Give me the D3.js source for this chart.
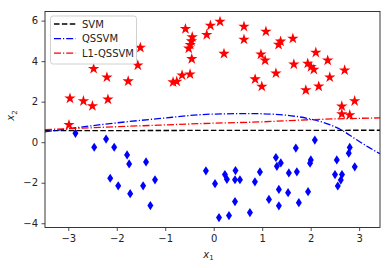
<!DOCTYPE html>
<meta charset="utf-8">
<title>SVM vs QSSVM</title>
<script src="https://d3js.org/d3.v7.min.js"></script>
<style>
  body { margin: 0; background: #fff; }
  svg text { font-family: "DejaVu Sans", sans-serif; }
</style>
<div id="my_dataviz"></div>
<script>

// red stars (class +1)
var starX = [-2.985, -2.965, -2.687, -2.502, -2.477, -2.203, -2.182, -1.764, -1.565, -1.513,
  -0.838, -0.762, -0.653, -0.488, -0.583, -0.443, -0.459, -0.484, -0.515, -0.453,
  -0.144, -0.068, 0.130, 0.212, 0.624, 0.624, 1.077, 0.974, 1.060, 0.854,
  0.992, 1.283, 1.338, 1.379, 1.633, 1.653, 1.900, 1.939, 2.007, 2.065,
  2.106, 2.166, 2.351, 2.394, 2.701, 2.907, 2.642, 2.642, 2.806];
var starY = [0.853, 2.162, 2.029, 1.784, 3.623, 3.206, 2.113, 3.010, 3.794, 4.667,
  2.961, 2.995, 3.304, 3.353, 5.593, 5.191, 4.985, 4.809, 4.627, 4.113,
  5.299, 5.755, 5.951, 4.368, 5.706, 5.069, 5.461, 4.333, 4.039, 3.108,
  2.750, 3.402, 4.814, 4.971, 5.118, 3.843, 2.569, 3.882, 3.721, 3.583,
  4.422, 2.755, 4.039, 3.206, 3.549, 2.029, 1.775, 1.392, 1.343];

// blue diamonds (class -1)
var diamX = [-2.852, -2.465, -2.220, -2.053, -1.787, -1.744, -1.396, -2.135, -1.970, -1.723,
  -1.456, -1.211, -1.307, -0.161, 0.027, 0.109, 0.231, 0.272, 0.315, 0.449,
  0.439, 0.541, 0.439, 0.747, 0.850, 0.953, 1.139, 1.283, 1.303, 1.384,
  1.344, 1.344, 1.534, 1.550, 1.715, 1.694, 1.756, 1.946, 1.987, 2.003,
  2.086, 2.539, 2.502, 2.646, 2.621, 2.559, 2.806, 2.786, 2.909];
var diamY = [0.436, -0.250, 0.152, -0.250, -0.627, -1.074, -0.975, -1.779, -2.152, -2.539,
  -2.152, -1.858, -3.127, -1.412, -2.049, -3.721, -1.598, -1.833, -3.623, -1.402,
  -1.853, -1.853, -2.931, -3.475, -1.956, -1.466, -2.824, -0.755, -1.191, -1.025,
  -2.333, -3.142, -2.490, -1.515, -1.461, -0.289, -2.985, -2.441, -1.034, -0.877,
  0.103, -0.877, -1.598, -1.598, -1.868, -2.162, -0.260, -0.544, -1.216];

// decision boundaries
var svmX = [-3.48, 3.43];
var svmY = [0.57, 0.59];
var qsX = [-3.48, -2.31, -1.15, 0.02, 0.81, 1.50, 1.98, 2.39, 2.66, 2.94, 3.21, 3.43];
var qsY = [0.51, 0.87, 1.16, 1.39, 1.41, 1.33, 1.15, 0.87, 0.57, 0.13, -0.27, -0.57];
var l1X = [-3.48, -1.15, 0.02, 0.95, 1.98, 3.43];
var l1Y = [0.62, 0.84, 0.94, 1.00, 1.11, 1.20];

var xTicks = [-3, -2, -1, 0, 1, 2, 3];
var yTicks = [-4, -2, 0, 2, 4, 6];

var margin = {top: 11.5, right: 10, bottom: 40.5, left: 45},
    width = 390 - margin.left - margin.right,
    height = 268 - margin.top - margin.bottom;

var svg = d3.select("#my_dataviz")
  .append("svg")
    .attr("width", 390)
    .attr("height", 268)
  .append("g")
    .attr("transform", "translate(" + margin.left + "," + margin.top + ")");

var x = d3.scaleLinear().domain([-3.48, 3.43]).range([0, width]);
var y = d3.scaleLinear().domain([-4.21, 6.45]).range([height, 0]);

var minus = function(d) { return String(d).replace("-", "\u2212"); };

// axes
var xAxis = svg.append("g")
  .attr("transform", "translate(0," + height + ")")
  .call(d3.axisBottom(x).tickValues(xTicks).tickSize(3.5).tickPadding(3.5).tickFormat(minus));
var yAxis = svg.append("g")
  .call(d3.axisLeft(y).tickValues(yTicks).tickSize(3.5).tickPadding(3.5).tickFormat(minus));
[xAxis, yAxis].forEach(function(a) {
  a.select(".domain").remove();
  a.selectAll("text").attr("font-size", "10px").attr("fill", "#222");
  a.selectAll("line").attr("stroke", "#222").attr("stroke-width", 0.8);
});

// lines
var line = d3.line()
  .x(function(d) { return x(d[0]); })
  .y(function(d) { return y(d[1]); });

svg.append("defs").append("clipPath").attr("id", "clip")
  .append("rect").attr("width", width).attr("height", height);

var plot = svg.append("g").attr("clip-path", "url(#clip)");

// markers
var starPath = d3.symbol().type(d3.symbolStar).size(40)();
var diamPath = "M0,-4.6L3,0L0,4.6L-3,0Z";

plot.selectAll(".star")
  .data(d3.zip(starX, starY))
  .enter().append("path")
    .attr("d", starPath)
    .attr("transform", function(d) { return "translate(" + x(d[0]) + "," + y(d[1]) + ")"; })
    .attr("fill", "#ff0000");

plot.selectAll(".diam")
  .data(d3.zip(diamX, diamY))
  .enter().append("path")
    .attr("d", diamPath)
    .attr("transform", function(d) { return "translate(" + x(d[0]) + "," + y(d[1]) + ")"; })
    .attr("fill", "#0000ff");

var curves = [
  {name: "SVM", xs: svmX, ys: svmY, color: "#000", dash: "5.5,2.4"},
  {name: "QSSVM", xs: qsX, ys: qsY, color: "#0000ff", dash: "7,2,1.2,2"},
  {name: "L1-QSSVM", xs: l1X, ys: l1Y, color: "#ff0000", dash: "7,2,1.2,2"}
];

curves.forEach(function(c) {
  plot.append("path")
    .datum(d3.zip(c.xs, c.ys))
    .attr("d", line.curve(d3.curveMonotoneX))
    .attr("fill", "none")
    .attr("stroke", c.color)
    .attr("stroke-width", 1.3)
    .attr("stroke-dasharray", c.dash);
});

// frame
svg.append("rect")
  .attr("width", width).attr("height", height)
  .attr("fill", "none").attr("stroke", "#222").attr("stroke-width", 0.9);

// legend
var legend = svg.append("g").attr("transform", "translate(5.5,4.5)");
legend.append("rect")
  .attr("width", 86).attr("height", 48).attr("rx", 2.5)
  .attr("fill", "#fff").attr("fill-opacity", 0.8)
  .attr("stroke", "#ccc").attr("stroke-width", 0.9);
curves.forEach(function(c, i) {
  var ly = 8 + i * 14.6;
  legend.append("line")
    .attr("x1", 3.5).attr("x2", 25).attr("y1", ly).attr("y2", ly)
    .attr("stroke", c.color).attr("stroke-width", 1.3)
    .attr("stroke-dasharray", c.dash);
  legend.append("text")
    .attr("x", 31.5).attr("y", ly).attr("dy", "0.35em")
    .attr("font-size", "10px").attr("fill", "#222")
    .text(c.name);
});

// axis labels
var xl = svg.append("text")
  .attr("x", width / 2 - 4).attr("y", height + 30)
  .attr("font-size", "10px").attr("fill", "#222")
  .attr("text-anchor", "middle");
xl.append("tspan").attr("font-style", "italic").text("x");
xl.append("tspan").attr("font-size", "7px").attr("dy", "2.5").text("1");

var yl = svg.append("text")
  .attr("transform", "translate(-31," + (height / 2 - 4) + ") rotate(-90)")
  .attr("font-size", "10px").attr("fill", "#222")
  .attr("text-anchor", "middle");
yl.append("tspan").attr("font-style", "italic").text("x");
yl.append("tspan").attr("font-size", "7px").attr("dy", "2.5").text("2");

</script>
